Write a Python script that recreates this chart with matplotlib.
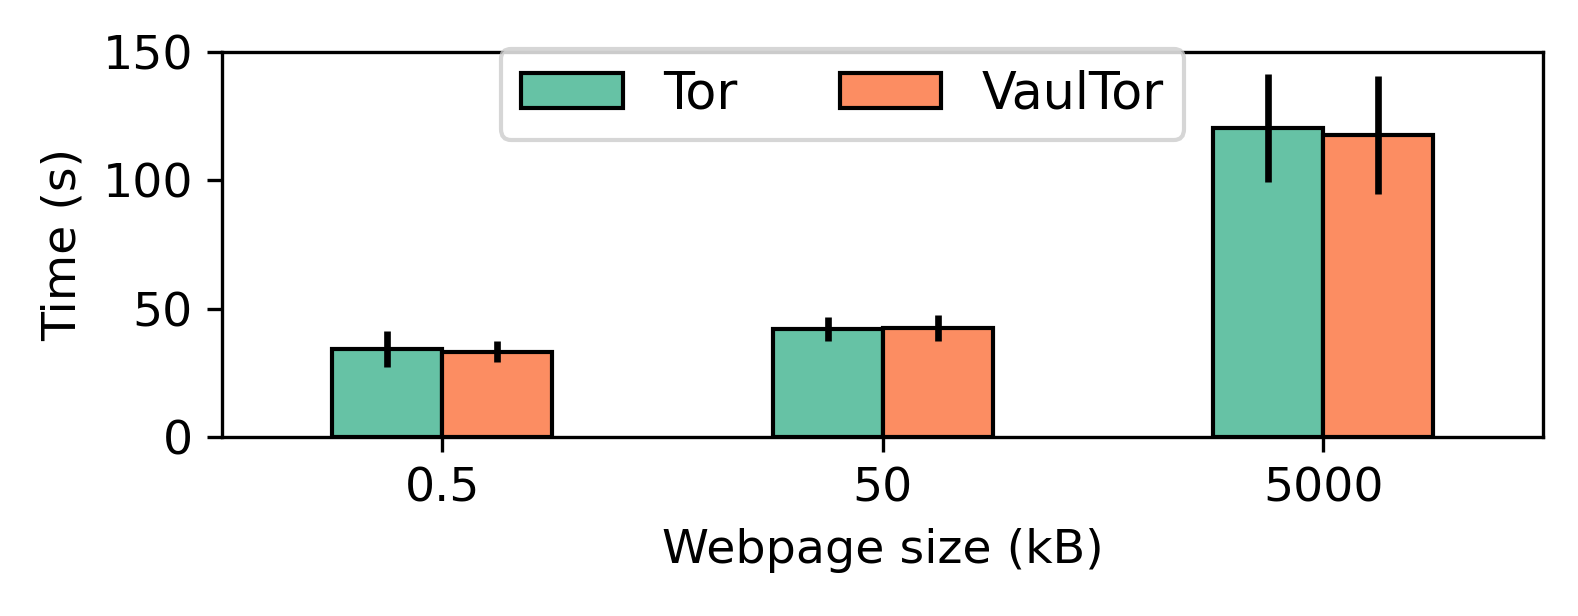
import numpy as np
import matplotlib.pyplot as plt

sizes = ['0.5', '50', '5000']
tor = [34.2, 42.2, 120.4]
tor_err = [7.1, 4.7, 20.9]
vaultor = [33.3, 42.5, 117.6]
vaultor_err = [4.2, 5.0, 23.0]

plt.rcParams['font.size'] = 11.4

fig, ax = plt.subplots(figsize=(1578 / 300, 616 / 300), dpi=300)
fig.subplots_adjust(left=0.1407, right=0.978, top=0.9156, bottom=0.2906)

x = np.arange(len(sizes))
w = 0.25
err_kw = dict(elinewidth=1.6, capsize=0, ecolor='black')
ax.bar(x - w / 2, tor, w, yerr=tor_err, color='#66c2a5', edgecolor='black',
       linewidth=1.0, label='Tor', error_kw=err_kw)
ax.bar(x + w / 2, vaultor, w, yerr=vaultor_err, color='#fc8d62', edgecolor='black',
       linewidth=1.0, label='VaulTor', error_kw=err_kw)

ax.set_xticks(x)
ax.set_xticklabels(sizes)
ax.set_xlim(-0.5, 2.5)
ax.set_ylim(0, 150)
ax.set_yticks([0, 50, 100, 150])
ax.set_xlabel('Webpage size (kB)')
ax.set_ylabel('Time (s)')

ax.legend(loc='upper center', bbox_to_anchor=(0.4697, 1.008), borderaxespad=0,
          ncol=2, fontsize=12.2)

plt.savefig('out.png', dpi=300)
